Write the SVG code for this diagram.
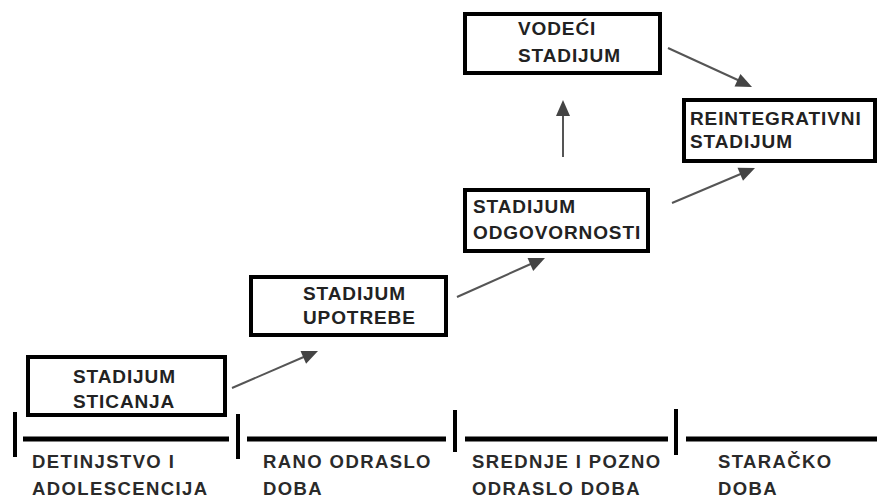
<svg xmlns="http://www.w3.org/2000/svg" width="880" height="500" viewBox="0 0 880 500">
<defs>
<path id="head" d="M0,0 L16,7 L0,14 z" fill="#444"/>
<style>
.box{fill:#fff;stroke:#000;stroke-width:4}
.bt{font-family:"Liberation Sans",Arial,sans-serif;font-weight:bold;font-size:19px;letter-spacing:0.9px;fill:#222}
.tl{font-family:"Liberation Sans",Arial,sans-serif;font-weight:bold;font-size:18.5px;letter-spacing:1.4px;fill:#2a2a2a}
.arr{stroke:#555;stroke-width:2;fill:none}
.axis{stroke:#000;stroke-width:5}
.tick{stroke:#000;stroke-width:4}
</style>
</defs>
<rect width="880" height="500" fill="#fff"/>
<g id="connectors">
<line class="arr" x1="232" y1="388" x2="306" y2="356"/>
<use href="#head" transform="translate(318,351) rotate(-23.3) translate(-16,-7)"/>
<line class="arr" x1="457" y1="297" x2="533" y2="263"/>
<use href="#head" transform="translate(545,258) rotate(-23.9) translate(-16,-7)"/>
<line class="arr" x1="563" y1="157" x2="563" y2="110"/>
<use href="#head" transform="translate(563,100) rotate(-90) translate(-16,-7)"/>
<line class="arr" x1="668" y1="48" x2="740" y2="81"/>
<use href="#head" transform="translate(752,87) rotate(24.9) translate(-16,-7)"/>
<line class="arr" x1="672" y1="203" x2="743" y2="173"/>
<use href="#head" transform="translate(755,168) rotate(-22.9) translate(-16,-7)"/>
</g>
<g id="timeline">
<line class="tick" x1="15" y1="412" x2="15" y2="457"/>
<line class="axis" x1="23" y1="439" x2="229" y2="439"/>
<line class="tick" x1="238" y1="414" x2="238" y2="459"/>
<line class="axis" x1="247" y1="439" x2="446" y2="439"/>
<line class="tick" x1="455" y1="410" x2="455" y2="452"/>
<line class="axis" x1="465" y1="439" x2="668" y2="439"/>
<line class="tick" x1="676" y1="409" x2="676" y2="455"/>
<line class="axis" x1="686" y1="439" x2="877" y2="439"/>
<text class="tl" x="32" y="468">DETINJSTVO I</text>
<text class="tl" x="32" y="495">ADOLESCENCIJA</text>
<text class="tl" x="263" y="468">RANO ODRASLO</text>
<text class="tl" x="263" y="495">DOBA</text>
<text class="tl" x="472" y="468">SREDNJE I POZNO</text>
<text class="tl" x="472" y="495">ODRASLO DOBA</text>
<text class="tl" x="718" y="468">STARAČKO</text>
<text class="tl" x="718" y="495">DOBA</text>
</g>
<g id="sticanje">
<rect class="box" x="28" y="357" width="197" height="58"/>
<text class="bt" x="73" y="383">STADIJUM</text>
<text class="bt" x="73" y="408">STICANJA</text>
</g>
<g id="upotreba">
<rect class="box" x="251" y="277" width="195" height="58"/>
<text class="bt" x="303" y="300">STADIJUM</text>
<text class="bt" x="303" y="324">UPOTREBE</text>
</g>
<g id="odgovornost">
<rect class="box" x="465" y="190" width="183" height="61"/>
<text class="bt" x="473" y="213">STADIJUM</text>
<text class="bt" x="473" y="239">ODGOVORNOSTI</text>
</g>
<g id="vodeci">
<rect class="box" x="465" y="14" width="195" height="59"/>
<text class="bt" x="518" y="35">VODEĆI</text>
<text class="bt" x="518" y="62">STADIJUM</text>
</g>
<g id="reintegrativni">
<rect class="box" x="684" y="100" width="191" height="61"/>
<text class="bt" x="690" y="125">REINTEGRATIVNI</text>
<text class="bt" x="690" y="148">STADIJUM</text>
</g>
</svg>
